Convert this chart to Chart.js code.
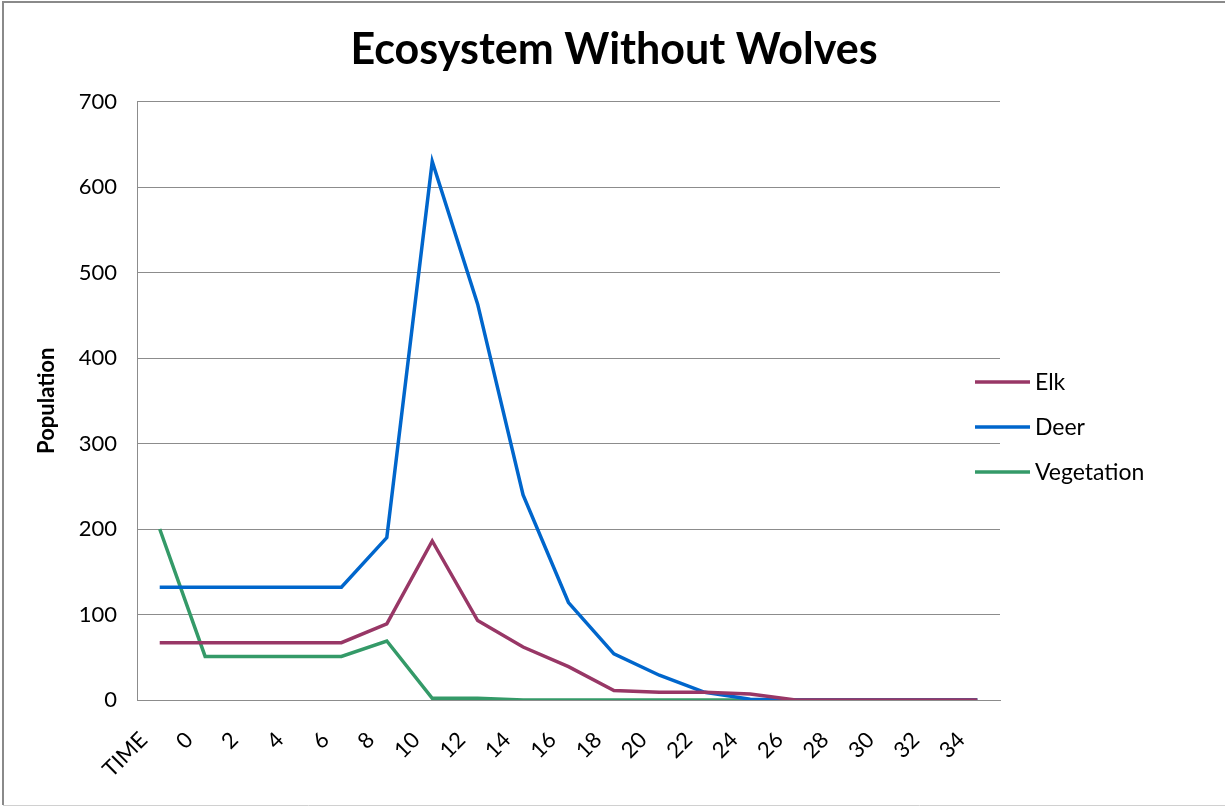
<!DOCTYPE html>
<html lang="en">
<head>
    <meta charset="UTF-8">
    <title>Ecosystem Without Wolves</title>
    <script src="https://cdn.jsdelivr.net/npm/chart.js"></script>
    <style>
        html, body { margin: 0; padding: 0; background: #fff; overflow: hidden; }
        #wrap { width: 1225px; height: 806px; position: relative; }
    </style>
</head>
<body>
    <div id="wrap"><canvas id="grafico"></canvas></div>
    <script>
        const categorias = ["TIME", "0", "2", "4", "6", "8", "10", "12", "14", "16", "18", "20", "22", "24", "26", "28", "30", "32", "34"];
        const elk = [67, 67, 67, 67, 67, 89, 186, 93, 62, 39, 11, 9, 9, 7, 0, 0, 0, 0, 0];
        const deer = [132, 132, 132, 132, 132, 190, 630, 463, 240, 114, 54, 29, 9, 1, 0, 0, 0, 0, 0];
        const vegetation = [200, 51, 51, 51, 51, 69, 2, 2, 0, 0, 0, 0, 0, 0, 0, 0, 0, 0, 0];
        const yTicks = [0, 100, 200, 300, 400, 500, 600, 700];

        const fonte = "Lato, 'Open Sans', sans-serif";
        const grade = "#8c8c8c";

        // moldura cinza (esquerda, topo e base)
        const moldura = {
            id: 'moldura',
            beforeDraw(chart) {
                const c = chart.ctx;
                c.save();
                c.strokeStyle = "#8a8a8a";
                c.lineWidth = 2;
                c.beginPath();
                c.moveTo(1225, 2);
                c.lineTo(3, 2);
                c.lineTo(3, 805);
                c.stroke();
                c.strokeStyle = "#d0d0d0";
                c.lineWidth = 1;
                c.beginPath();
                c.moveTo(3, 805.5);
                c.lineTo(1225, 805.5);
                c.stroke();
                c.restore();
            }
        };

        // legenda por cima da área do gráfico, como no Excel
        const legenda = {
            id: 'legenda',
            afterDraw(chart) {
                const c = chart.ctx;
                const a = chart.chartArea;
                c.save();
                c.font = "23px " + fonte;
                c.textBaseline = "middle";
                chart.data.datasets.forEach((ds, i) => {
                    const y = 382 + i * 45;
                    const x = a.right - 25;
                    c.strokeStyle = ds.borderColor;
                    c.lineWidth = 3.5;
                    c.beginPath();
                    c.moveTo(x, y);
                    c.lineTo(x + 55, y);
                    c.stroke();
                    c.fillStyle = "#000";
                    c.fillText(ds.label, x + 60, y + 1);
                });
                c.restore();
            }
        };

        const ctx = document.getElementById('grafico').getContext('2d');
        new Chart(ctx, {
            type: 'line',
            data: {
                labels: categorias,
                datasets: [
                    { label: 'Elk', data: elk, borderColor: '#983766', backgroundColor: '#983766' },
                    { label: 'Deer', data: deer, borderColor: '#0066cc', backgroundColor: '#0066cc' },
                    { label: 'Vegetation', data: vegetation, borderColor: '#349a68', backgroundColor: '#349a68' }
                ]
            },
            options: {
                responsive: true,
                maintainAspectRatio: false,
                animation: false,
                elements: {
                    line: { borderWidth: 3.5, tension: 0 },
                    point: { radius: 0 }
                },
                layout: { padding: { left: 3, right: 0, top: 0, bottom: 16 } },
                plugins: {
                    legend: { display: false },
                    tooltip: { enabled: false },
                    title: {
                        display: true,
                        text: 'Ecosystem Without Wolves',
                        color: '#000',
                        font: { family: fonte, size: 43, weight: 'bold' },
                        padding: { top: 24, bottom: 26 }
                    }
                },
                scales: {
                    x: {
                        offset: true,
                        grid: { display: false, drawTicks: false },
                        border: { display: true, color: grade },
                        ticks: {
                            color: '#000',
                            font: { family: fonte, size: 22 },
                            minRotation: 45,
                            maxRotation: 45,
                            autoSkip: false,
                            padding: 27,
                            labelOffset: -16
                        },
                        afterFit: s => { s.height = 90; }
                    },
                    y: {
                        min: 0,
                        max: 700,
                        afterBuildTicks: s => { s.ticks = yTicks.map(v => ({ value: v })); },
                        grid: { color: grade, drawTicks: false },
                        border: { display: true, color: grade },
                        ticks: {
                            color: '#000',
                            font: { family: fonte, size: 22 },
                            padding: 20
                        },
                        title: {
                            display: true,
                            text: 'Population',
                            color: '#000',
                            font: { family: fonte, size: 22, weight: 'bold' },
                            padding: { top: 31, bottom: 0 }
                        },
                        afterFit: s => { s.width = 134; }
                    },
                    // eixo vazio só para reservar o espaço da legenda à direita
                    espaco: {
                        position: 'right',
                        display: true,
                        grid: { display: false, drawTicks: false },
                        border: { display: false },
                        ticks: { display: false },
                        afterFit: s => { s.width = 225; }
                    }
                }
            },
            plugins: [moldura, legenda]
        });
    </script>
</body>
</html>
